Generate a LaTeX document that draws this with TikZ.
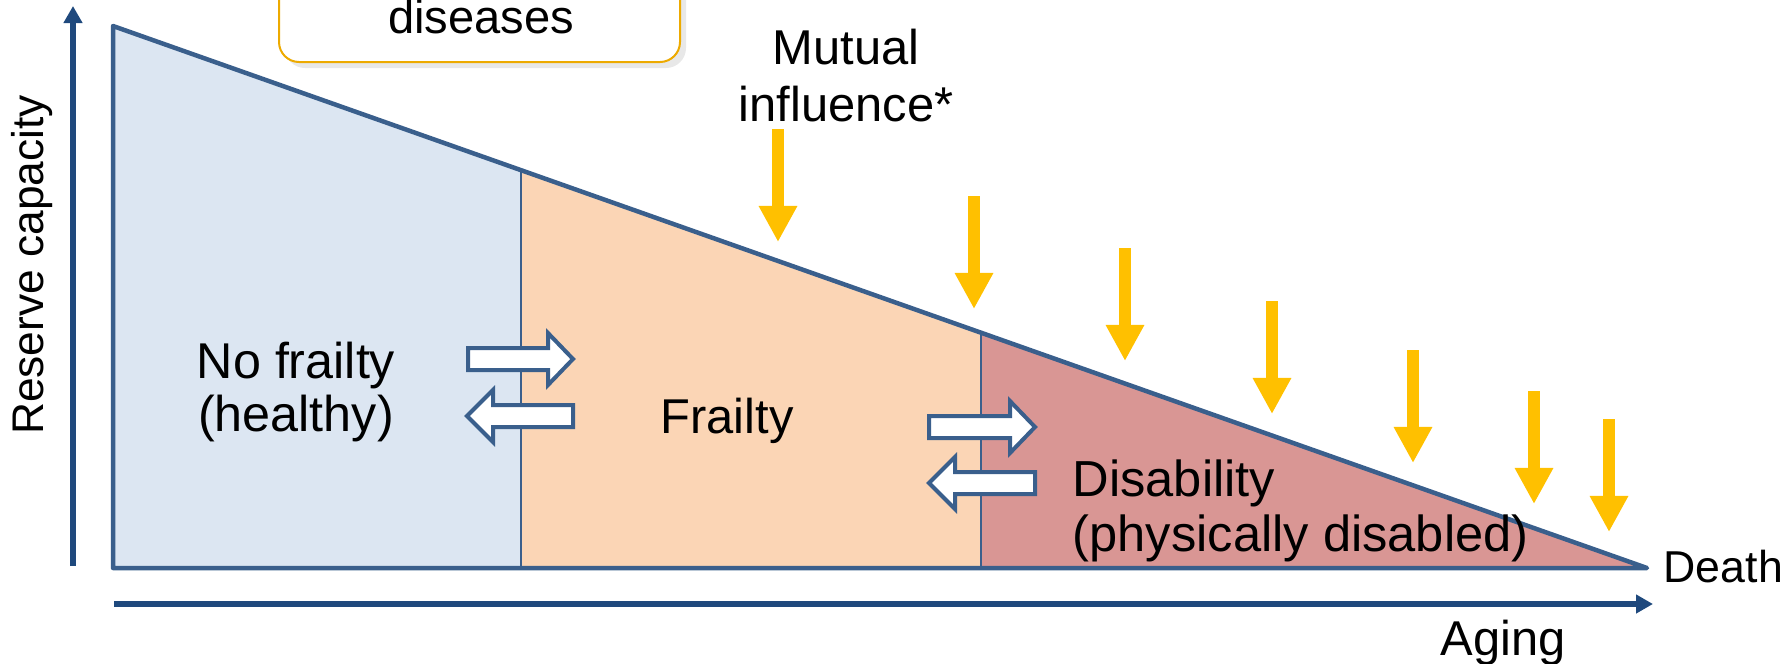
\documentclass[tikz,border=0pt]{standalone}
\usepackage{fontspec}
\setmainfont{Liberation Sans}
\usetikzlibrary{arrows.meta,shadows}
\definecolor{outline}{HTML}{3A5F8C}
\definecolor{axisblue}{HTML}{1F497D}
\definecolor{healthyfill}{HTML}{DCE6F2}
\definecolor{frailfill}{HTML}{FBD5B5}
\definecolor{disablefill}{HTML}{D99694}
\definecolor{influence}{HTML}{FFC000}
\definecolor{boxline}{HTML}{EDAA00}
\begin{document}
\begin{tikzpicture}[x=0.01cm,y=-0.01cm,
  axisline/.style={draw=axisblue,line width=0.06cm,-{Triangle[length=0.17cm,width=0.18cm]}},
  push/.style={draw=influence,line width=0.12cm,-{Triangle[length=0.36cm,width=0.36cm]}},
  turnarrow/.style={draw=outline,line width=0.04cm,fill=white},
  txt/.style={inner sep=0pt,font=\fontsize{13.9pt}{16.2pt}\selectfont}]
\useasboundingbox (0,0) rectangle (1785,663);
\clip (0,0) rectangle (1785,663);

% stages
\fill[healthyfill] (113,568)--(113,26)--(521,170)--(521,568)--cycle;
\fill[frailfill] (521,568)--(521,170)--(981,333)--(981,568)--cycle;
\fill[disablefill] (981,568)--(981,333)--(1647,568)--cycle;
\draw[outline,line width=0.02cm] (521,568)--(521,170) (981,568)--(981,333);
\draw[outline,line width=0.045cm,line join=round] (113,568)--(113,26)--(1647,568)--cycle;

% axes
\draw[axisline] (73,566)--(73,6);
\draw[axisline] (114,604)--(1653,604);

% influence arrows
\foreach \x/\y in {778/129,974/196,1125/248,1272/301,1413/350,1534/391,1609/419}
  \draw[push] (\x,\y)--(\x,\y+113);

% transitions
\foreach \xa/\xh/\xb/\y in {468/548/573/359,573/493/467/416,929/1010/1035/427,1035/955/929/483}
  \draw[turnarrow] (\xa,\y-11)--(\xh,\y-11)--(\xh,\y-26)--(\xb,\y)--(\xh,\y+26)--(\xh,\y+11)--(\xa,\y+11)--cycle;

% box
\draw[boxline,line width=0.02cm,rounded corners=0.2cm,fill=white,
  drop shadow={shadow xshift=0.06cm,shadow yshift=-0.06cm,fill=black!18}] (279,-60) rectangle (680,62);

\node[txt,anchor=base,font=\fontsize{13.4pt}{16pt}\selectfont] (diseases) at (481,33) {diseases};
\node[txt,align=center] (mutual) at (846,76) {Mutual\\influence*};
\node[txt,align=center,font=\fontsize{14.3pt}{14.8pt}\selectfont] (nofrailty) at (296,392) {No frailty\\(healthy)};
\node[txt,anchor=base] (frailty) at (727,433) {Frailty};
\node[txt,align=left,anchor=west,font=\fontsize{14.4pt}{15.6pt}\selectfont] (disability) at (1072,511) {Disability\\(physically disabled)};
\node[txt,anchor=base west,font=\fontsize{12.7pt}{14pt}\selectfont] (death) at (1663,582) {Death};
\node[txt,anchor=base west] (aging) at (1440,655) {Aging};
\node[txt,rotate=90,anchor=base,font=\fontsize{12.6pt}{14pt}\selectfont] (reserve) at (44,265) {Reserve capacity};
\end{tikzpicture}
\end{document}
